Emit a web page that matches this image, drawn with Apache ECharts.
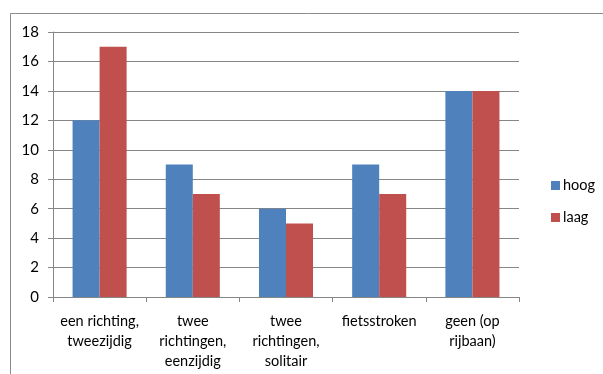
<!DOCTYPE html>
<html>
<head>
<meta charset="utf-8">
<script src="https://cdn.jsdelivr.net/npm/echarts@6/dist/echarts.min.js"></script>
<style>
  html, body { margin: 0; padding: 0; background: #fff; }
  #chart { width: 603px; height: 374px; }
</style>
</head>
<body>
<div id="chart"></div>
<script>
// Fietsvoorzieningen: aantallen per type, hoog vs. laag
const categories = [
  'een richting,\ntweezijdig',
  'twee\nrichtingen,\neenzijdig',
  'twee\nrichtingen,\nsolitair',
  'fietsstroken',
  'geen (op\nrijbaan)'
];
const hoog = [12, 9, 6, 9, 14];
const laag = [17, 7, 5, 7, 14];
const yTicks = { min: 0, max: 18, interval: 2 };

const FONT = 'Lato';
const FS = 14.5;
const chart = echarts.init(document.getElementById('chart'), null, { renderer: 'canvas' });

chart.setOption({
  animation: false,
  backgroundColor: '#ffffff',
  textStyle: { fontFamily: FONT },
  graphic: [{
    type: 'rect',
    shape: { x: 10.5, y: 13.5, width: 700, height: 500 },
    style: { fill: 'none', stroke: '#8c8c8c', lineWidth: 1 },
    silent: true
  }],
  grid: { left: 53, right: 84, top: 32, bottom: 77, containLabel: false },
  legend: {
    orient: 'vertical',
    left: 546,
    top: 173,
    itemWidth: 9,
    itemHeight: 9,
    itemGap: 17,
    icon: 'rect',
    textStyle: { fontFamily: FONT, fontSize: FS, color: '#000', padding: [0, 0, 0, -2] },
    data: ['hoog', 'laag']
  },
  xAxis: {
    type: 'category',
    data: categories,
    axisLine: { show: true, lineStyle: { color: '#868686', width: 1 } },
    axisTick: { show: true, length: 5, alignWithLabel: false, lineStyle: { color: '#868686' } },
    axisLabel: {
      interval: 0,
      margin: 14,
      color: '#000',
      fontFamily: FONT,
      fontSize: FS,
      lineHeight: 20
    },
    splitLine: { show: false }
  },
  yAxis: {
    type: 'value',
    min: yTicks.min,
    max: yTicks.max,
    interval: yTicks.interval,
    axisLine: { show: true, lineStyle: { color: '#868686', width: 1 } },
    axisTick: { show: true, length: 5, lineStyle: { color: '#868686' } },
    axisLabel: { color: '#000', fontFamily: FONT, fontSize: FS + 0.5, margin: 14 },
    splitLine: { show: true, lineStyle: { color: '#868686', width: 1 } }
  },
  series: [
    {
      name: 'hoog',
      type: 'bar',
      data: hoog,
      barGap: '0%',
      barCategoryGap: '42%',
      itemStyle: { color: '#4F81BD' }
    },
    {
      name: 'laag',
      type: 'bar',
      data: laag,
      barGap: '0%',
      barCategoryGap: '42%',
      itemStyle: { color: '#C0504D' }
    }
  ]
});
</script>
</body>
</html>
